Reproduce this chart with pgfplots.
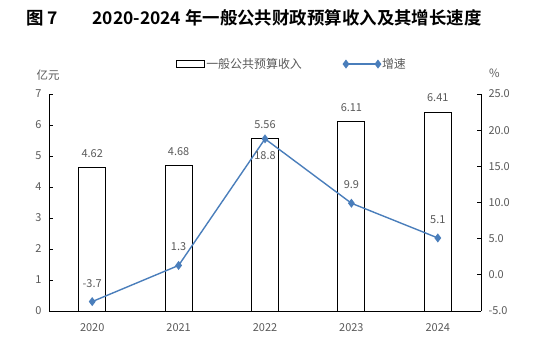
\documentclass[border=0pt]{standalone}
\usepackage{fontspec}
\setmainfont{Noto Sans CJK SC}[BoldFont={Noto Sans CJK SC Bold}]
\usepackage{pgfplots}
\pgfplotsset{compat=1.18}
\definecolor{txt}{HTML}{595959}
\definecolor{lineblue}{HTML}{4A7EBB}
\pgfplotsset{
  lbl/.style={draw=none, mark=none, forget plot, nodes near coords,
    nodes near coords style={text=txt, font=\fontsize{11}{12}\selectfont, anchor=center, yshift=#1,
    /pgf/number format/fixed, /pgf/number format/precision=1, /pgf/number format/fixed zerofill, /pgf/number format/assume math mode=true}},
  barleg/.style={legend image code/.code={\draw[black, fill=white, line width=1bp] (0bp,-3.2bp) rectangle (28bp,3.2bp);}},
  lineleg/.style={legend image code/.code={\draw[##1] plot coordinates {(0bp,0bp) (32bp,0bp)};}},
}
\begin{document}
\begin{tikzpicture}[x=1bp,y=1bp]
\path[use as bounding box] (0,0) rectangle (553,345);
\node[anchor=west,font=\bfseries\fontsize{17.5}{19}\selectfont] at (23,327) {图 7};
\node[anchor=west,font=\bfseries\fontsize{17.5}{19}\selectfont] at (89,327) {2020-2024 年一般公共财政预算收入及其增长速度};
\node[text=txt,font=\fontsize{11.5}{12}\selectfont] at (48,270) {亿元};
\node[text=txt,font=\fontsize{11.5}{12}\selectfont] at (494.5,272) {\%};
\begin{axis}[
  at={(49bp,34bp)}, anchor=south west, scale only axis,
  width=432bp, height=217bp,
  xmin=-0.5, xmax=4.5, ymin=0, ymax=7,
  axis x line*=bottom, axis y line*=left,
  axis line style={black, line width=0.9bp, -},
  xtick={0,1,2,3,4}, xticklabels={2020,2021,2022,2023,2024},
  ytick={0,1,2,3,4,5,6,7},
  xtick style={draw=none},
  ytick style={black, line width=0.8bp},
  tick align=inside, major tick length=4bp,
  /pgf/number format/assume math mode=true,
  tick label style={text=txt, font=\fontsize{11}{12}\selectfont},
  xticklabel style={yshift=-5bp},
  yticklabel style={xshift=-4bp},
  ybar, bar width=27bp,
  nodes near coords,
  nodes near coords style={text=txt, font=\fontsize{11}{12}\selectfont, anchor=center, yshift=14.5bp,
    /pgf/number format/fixed, /pgf/number format/precision=2, /pgf/number format/fixed zerofill, /pgf/number format/assume math mode=true},
]
\addplot[draw=black, fill=white, line width=1bp] coordinates {(0,4.62) (1,4.68) (2,5.56) (3,6.11) (4,6.41)};
\end{axis}
\begin{axis}[
  at={(49bp,34bp)}, anchor=south west, scale only axis,
  width=432bp, height=217bp,
  xmin=-0.5, xmax=4.5, ymin=-5, ymax=25,
  axis x line=none, axis y line*=right,
  axis line style={black, line width=0.9bp, -},
  ytick={-5,0,5,10,15,20,25},
  ytick style={black, line width=0.8bp},
  tick align=inside, major tick length=4bp,
  /pgf/number format/assume math mode=true,
  yticklabel style={text=txt, font=\fontsize{11}{12}\selectfont, xshift=4bp,
    /pgf/number format/fixed, /pgf/number format/precision=1, /pgf/number format/fixed zerofill},
  legend columns=2,
  legend style={at={(0.293,1.138)}, anchor=west, draw=none, fill=none, inner sep=0pt,
    font=\fontsize{12}{13}\selectfont, text=txt,
    nodes={inner sep=1.5bp},
    /tikz/every even column/.append style={column sep=40bp}},
  lineleg,
]
\addlegendimage{barleg}
\addlegendentry{一般公共预算收入}
\addplot[color=lineblue, line width=1.4bp, mark=diamond*, mark size=3.4bp,
  mark options={fill=lineblue, draw=lineblue}]
  coordinates {(0,-3.7) (1,1.3) (2,18.8) (3,9.9) (4,5.1)};
\addlegendentry{增速}
\addplot[lbl=18.5bp] coordinates {(0,-3.7) (1,1.3) (3,9.9) (4,5.1)};
\addplot[lbl=-17bp] coordinates {(2,18.8)};
\end{axis}
\end{tikzpicture}
\end{document}
